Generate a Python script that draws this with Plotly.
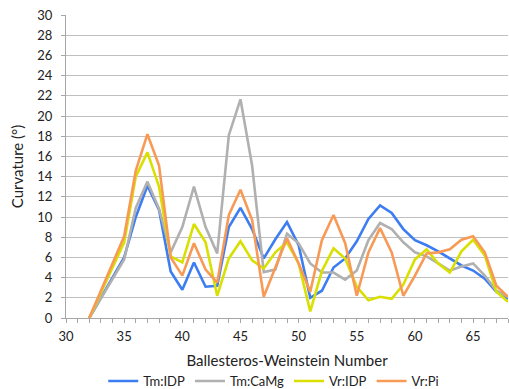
import plotly.graph_objects as go

bw_numbers = list(range(32, 69))

tm_idp = [0, 2.0, 4.0, 6.0, 10.0, 13.1, 10.7, 4.6, 2.8, 5.5, 3.1, 3.2, 9.0,
          10.9, 8.8, 5.9, 7.8, 9.5, 7.2, 2.0, 2.7, 5.0, 5.9, 7.6, 9.8,
          11.15, 10.4, 8.8, 7.7, 7.2, 6.6, 5.9, 5.2, 4.7, 3.9, 2.6, 1.9]
tm_camg = [0, 1.9, 3.9, 5.8, 10.9, 13.5, 10.8, 6.5, 9.0, 13.0, 9.0, 6.4, 18.1,
           21.65, 15.1, 4.55, 4.8, 8.35, 7.4, 5.4, 4.5, 4.5, 3.8, 4.7, 7.7,
           9.4, 8.8, 7.5, 6.5, 6.1, 5.4, 4.7, 5.1, 5.4, 4.2, 2.7, 2.1]
vr_idp = [0, 2.5, 5.0, 7.5, 14.0, 16.4, 13.0, 6.1, 5.5, 9.3, 7.5, 2.2, 5.9,
          7.6, 5.7, 4.9, 6.5, 7.5, 5.4, 0.66, 4.65, 6.9, 5.9, 3.1, 1.75,
          2.1, 1.9, 3.3, 5.8, 6.8, 5.4, 4.5, 6.6, 7.75, 6.2, 2.6, 1.6]
vr_pi = [0, 2.7, 5.4, 8.1, 14.6, 18.2, 15.1, 6.0, 4.2, 7.4, 4.8, 3.5, 10.2,
         12.7, 9.7, 2.1, 5.0, 7.9, 5.4, 2.6, 7.7, 10.2, 7.4, 2.2, 6.5,
         8.9, 6.5, 2.2, 4.2, 6.4, 6.5, 6.8, 7.75, 8.1, 6.5, 3.2, 2.1]

series = [
    ("Tm:IDP", tm_idp, "#3c7df2"),
    ("Tm:CaMg", tm_camg, "#b0b0b0"),
    ("Vr:IDP", vr_idp, "#d9df00"),
    ("Vr:Pi", vr_pi, "#f89a55"),
]

x_tickvals = list(range(30, 70, 5))
y_tickvals = list(range(0, 32, 2))

fig = go.Figure()
for name, vals, color in series:
    fig.add_trace(go.Scatter(x=bw_numbers, y=vals, mode="lines", name=name,
                             line=dict(color=color, width=2.6)))

font_family = "Lato, 'Open Sans', sans-serif"
fig.update_layout(
    width=509, height=389,
    margin=dict(l=66, r=1, t=15, b=71, autoexpand=False),
    paper_bgcolor="white", plot_bgcolor="white",
    font=dict(family=font_family, size=13, color="#222222"),
    showlegend=True,
    legend=dict(orientation="h", x=0.47, xanchor="center", y=-0.208, yanchor="middle",
                font=dict(size=13), traceorder="normal", itemwidth=30,
                tracegroupgap=0, bgcolor="rgba(0,0,0,0)"),
    xaxis=dict(range=[30, 68], tickvals=x_tickvals, showgrid=False, zeroline=False,
               automargin=False,
               showline=True, linecolor="#a6a6a6", linewidth=1,
               ticks="outside", ticklen=4, tickcolor="#a6a6a6",
               minor=dict(dtick=1, ticks="outside", ticklen=4, tickcolor="#a6a6a6"),
               title=dict(text="Ballesteros-Weinstein Number", font=dict(size=15), standoff=12),
               tickfont=dict(size=13), ticklabelstandoff=2),
    yaxis=dict(range=[0, 30], tickvals=y_tickvals, showgrid=True, gridcolor="#bfbfbf",
               automargin=False,
               gridwidth=1, zeroline=False, showline=True, linecolor="#a6a6a6",
               ticks="outside", ticklen=4, tickcolor="#a6a6a6",
               title=dict(text="Curvature (°)", font=dict(size=15), standoff=10),
               tickfont=dict(size=13), ticklabelstandoff=6),
)

fig.write_html("out.html", config={"displayModeBar": False},
               post_script="document.body.style.margin='0';document.body.style.padding='0';")
